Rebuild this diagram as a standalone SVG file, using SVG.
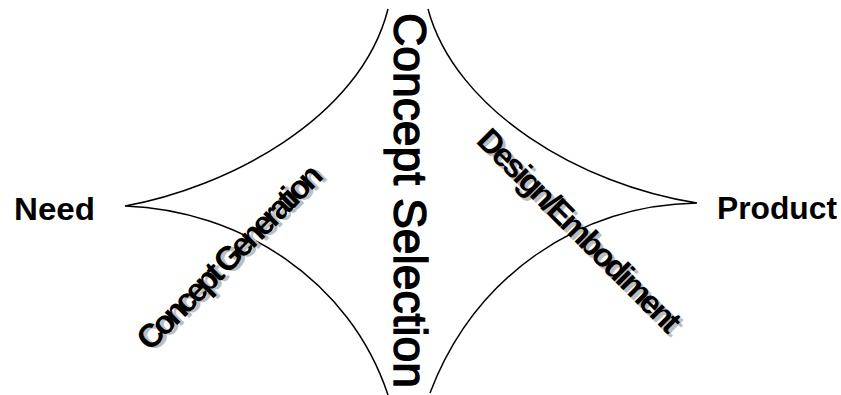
<svg xmlns="http://www.w3.org/2000/svg" width="841" height="395" viewBox="0 0 841 395">
<style>
.curve{fill:none;stroke:#000;stroke-width:1.5}
.lbl{font-family:"Liberation Sans",Arial,sans-serif;font-weight:bold;fill:#000}
.vert{font-family:"Liberation Sans",Arial,sans-serif;font-weight:normal;fill:#000;stroke:#000;stroke-width:1.4;font-size:46px}
.diag{font-family:"Liberation Sans",Arial,sans-serif;font-weight:bold;font-size:33px}
.shadow{fill:#bdbdbd}
.front{fill:#000}
</style>
<rect width="841" height="395" fill="#fff"/>
<g id="connectors">
<path class="curve" d="M388,9 C360,120 225,188 125,206 C240,210 350,280 388,395"/>
<path class="curve" d="M428,9 C455,110 580,185 697,203 C580,205 475,275 430,393"/>
</g>
<g id="need"><text class="lbl" x="14" y="220" font-size="31" textLength="81" lengthAdjust="spacingAndGlyphs">Need</text></g>
<g id="product"><text class="lbl" x="717" y="219" font-size="31" textLength="120" lengthAdjust="spacingAndGlyphs">Product</text></g>
<g id="concept-selection"><text class="vert" transform="translate(394,13) rotate(90)" x="0" y="0" textLength="375" lengthAdjust="spacingAndGlyphs">Concept Selection</text></g>
<g id="concept-generation">
<text class="diag shadow" transform="translate(154,353) rotate(-45)" textLength="247" lengthAdjust="spacing">Concept Generation</text>
<text class="diag front" transform="translate(150,352) rotate(-45)" textLength="247" lengthAdjust="spacing">Concept Generation</text>
</g>
<g id="design-embodiment">
<text class="diag shadow" transform="translate(478,145) rotate(45)" textLength="273" lengthAdjust="spacing">Design/Embodiment</text>
<text class="diag front" transform="translate(475,142) rotate(45)" textLength="273" lengthAdjust="spacing">Design/Embodiment</text>
</g>
</svg>
